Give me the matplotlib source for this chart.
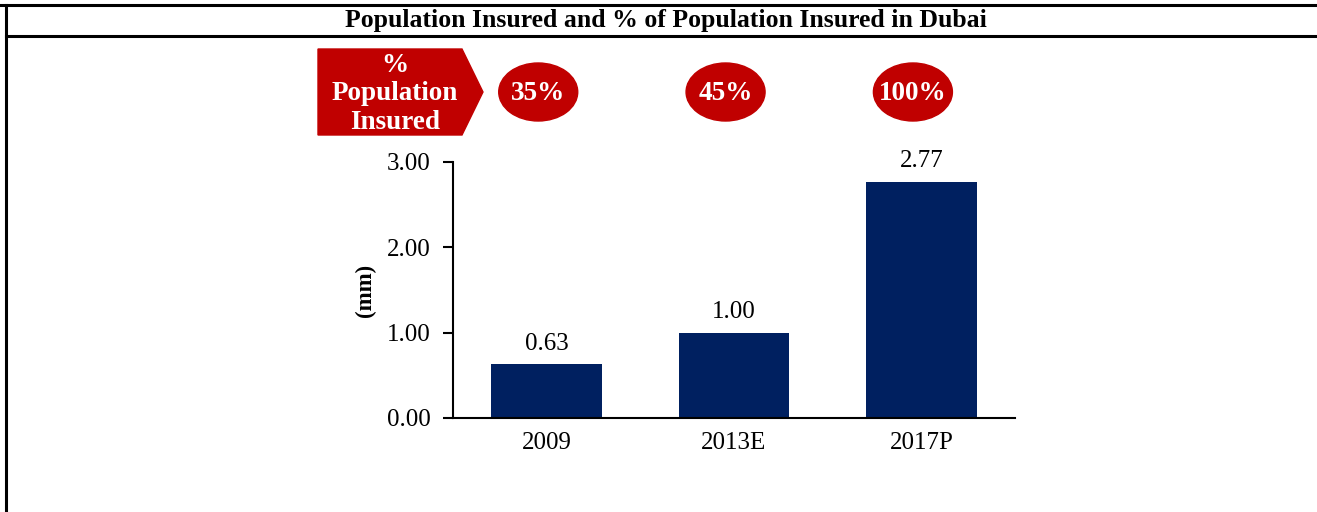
import matplotlib.pyplot as plt
from matplotlib.patches import Polygon, Ellipse
from matplotlib.lines import Line2D

# population insured in Dubai (mm) and share of population insured
years = ['2009', '2013E', '2017P']
insured_mm = [0.63, 1.00, 2.77]
pct_insured = ['35%', '45%', '100%']
yticks = [0.0, 1.0, 2.0, 3.0]

navy = '#002060'
red = '#C00000'
W, H = 1317, 512

plt.rcParams['font.family'] = ['Liberation Serif', 'DejaVu Serif']

fig = plt.figure(figsize=(W / 100, H / 100), dpi=100)
fig.patch.set_facecolor('white')

def px(x, y):
    # pixel position (from top-left) to figure fraction
    return x / W, 1 - y / H

# frame: top rule, title rule and left border
for xs, ys in [((0, W), (5, 5)), ((6, W), (36, 36)), ((6, 6), (5, H))]:
    fig.add_artist(Line2D([v / W for v in xs], [1 - v / H for v in ys],
                          color='black', lw=2.2, transform=fig.transFigure))

fig.text(*px(666, 21), 'Population Insured and % of Population Insured in Dubai',
         ha='center', va='center', fontsize=18.5, fontweight='bold')

ax = fig.add_axes([453 / W, 94 / H, (1015 - 453) / W, (418 - 162) / H])
x = range(len(years))
ax.bar(x, insured_mm, width=0.59, color=navy)
ax.set_xlim(-0.5, 2.5)
ax.set_ylim(0, 3)
ax.set_yticks(yticks)
ax.set_yticklabels([f'{v:.2f}' for v in yticks], fontsize=18)
ax.set_xticks(list(x))
ax.set_xticklabels(years, fontsize=18)
ax.tick_params(axis='x', length=0, pad=10)
ax.tick_params(axis='y', direction='out', length=7, width=1.5, pad=9)
for side in ['top', 'right']:
    ax.spines[side].set_visible(False)
for side in ['left', 'bottom']:
    ax.spines[side].set_linewidth(1.5)
ax.set_ylabel('(mm)', fontsize=16.5, fontweight='bold', labelpad=8)

for xi, v in zip(x, insured_mm):
    ax.annotate(f'{v:.2f}', (xi, v), xytext=(0, 7), textcoords='offset points',
                ha='center', va='bottom', fontsize=18)

# red chevron header for the percentage row
chev = [(318, 49), (462, 49), (483, 92), (462, 135), (318, 135)]
fig.add_artist(Polygon([px(*p) for p in chev], closed=True, color=red,
                       transform=fig.transFigure))
fig.text(*px(395, 94), '%\nPopulation\nInsured', ha='center', va='center',
         color='white', fontsize=19.5, fontweight='bold', linespacing=1.2)

# ellipses with % insured above each bar
fig.canvas.draw()
for xi, pct in zip(x, pct_insured):
    fx = fig.transFigure.inverted().transform(ax.transData.transform((xi - 0.045, 0)))[0]
    fy = 1 - 92 / H
    fig.add_artist(Ellipse((fx, fy), 79 / W, 58 / H, color=red,
                           transform=fig.transFigure))
    fig.text(fx, fy - 1 / H, pct, ha='center', va='center', color='white',
             fontsize=19.5, fontweight='bold')

fig.savefig('out.png', dpi=100)
